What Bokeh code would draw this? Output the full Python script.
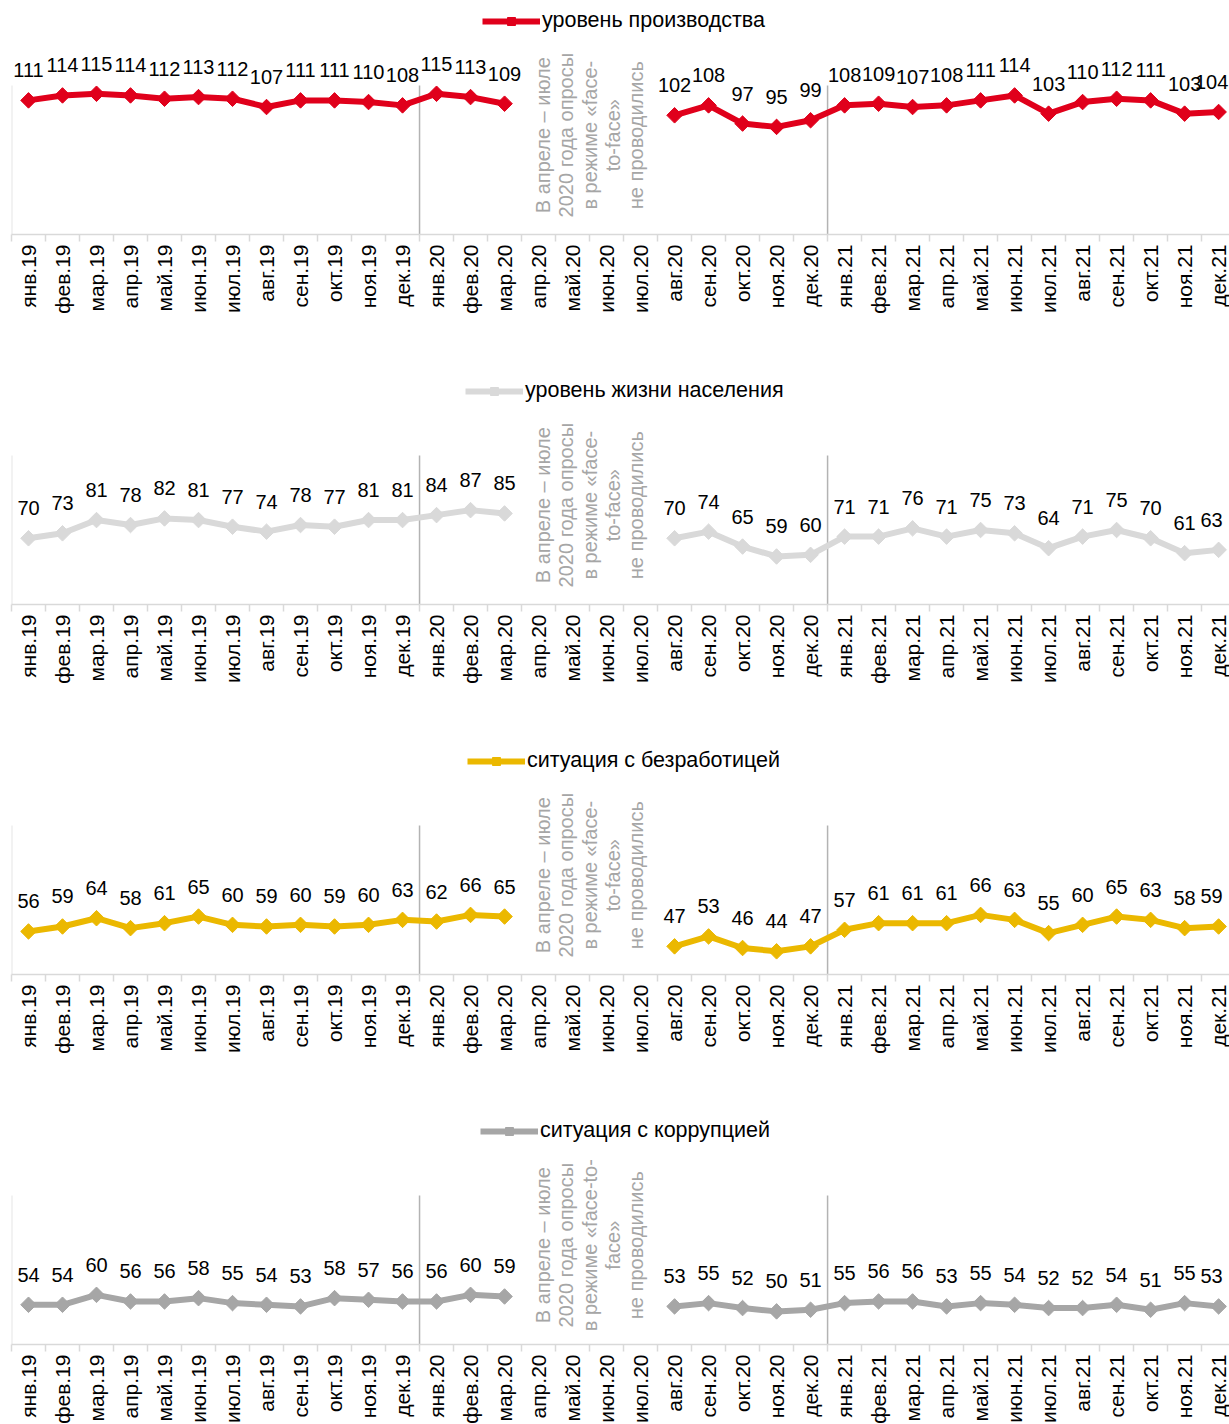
import math
from bokeh.plotting import figure
from bokeh.models import (Range1d, FixedTicker, ColumnDataSource, LabelSet, Label,
                          Legend, LegendItem)
from bokeh.core.properties import value
from bokeh.layouts import column
from bokeh.embed import file_html
from bokeh.resources import INLINE

NaN = float("nan")

categories = [
    "янв.19", "фев.19", "мар.19", "апр.19", "май.19", "июн.19",
    "июл.19", "авг.19", "сен.19", "окт.19", "ноя.19", "дек.19",
    "янв.20", "фев.20", "мар.20", "апр.20", "май.20", "июн.20",
    "июл.20", "авг.20", "сен.20", "окт.20", "ноя.20", "дек.20",
    "янв.21", "фев.21", "мар.21", "апр.21", "май.21", "июн.21",
    "июл.21", "авг.21", "сен.21", "окт.21", "ноя.21", "дек.21",
]

production = [111, 114, 115, 114, 112, 113, 112, 107, 111, 111, 110, 108,
              115, 113, 109, NaN, NaN, NaN, NaN, 102, 108, 97, 95, 99,
              108, 109, 107, 108, 111, 114, 103, 110, 112, 111, 103, 104]
living = [70, 73, 81, 78, 82, 81, 77, 74, 78, 77, 81, 81,
          84, 87, 85, NaN, NaN, NaN, NaN, 70, 74, 65, 59, 60,
          71, 71, 76, 71, 75, 73, 64, 71, 75, 70, 61, 63]
unemployment = [56, 59, 64, 58, 61, 65, 60, 59, 60, 59, 60, 63,
                62, 66, 65, NaN, NaN, NaN, NaN, 47, 53, 46, 44, 47,
                57, 61, 61, 61, 66, 63, 55, 60, 65, 63, 58, 59]
corruption = [54, 54, 60, 56, 56, 58, 55, 54, 53, 58, 57, 56,
              56, 60, 59, NaN, NaN, NaN, NaN, 53, 55, 52, 50, 51,
              55, 56, 56, 53, 55, 54, 52, 52, 54, 51, 55, 53]

series_names = ["уровень производства", "уровень жизни населения",
                "ситуация с безработицей", "ситуация с коррупцией"]
series_values = [production, living, unemployment, corruption]
series_colors = ["#E0001B", "#D9D9D9", "#EBB800", "#A6A6A6"]

notes = [
    "В апреле – июле\n2020 года опросы\nв режиме «face-\nto-face»\nне проводились",
    "В апреле – июле\n2020 года опросы\nв режиме «face-\nto-face»\nне проводились",
    "В апреле – июле\n2020 года опросы\nв режиме «face-\nto-face»\nне проводились",
    "В апреле – июле\n2020 года опросы\nв режиме «face-to-\nface»\nне проводились",
]

FONT = "Liberation Sans"
legend_left = [471, 454, 456, 469]
bottom_borders = [136, 136, 136, 66]

Y_MIN, Y_MAX = 30, 120          # value axis range of the plotted area
AXIS_PX = 149                   # pixel height of that value range
FRAME_H = 234                   # frame includes legend/label area above
Y_TOP = Y_MIN + FRAME_H * (Y_MAX - Y_MIN) / AXIS_PX
X_START, X_END = -0.5, 35.32

xs = list(range(len(categories)))


def make_panel(k):
    values = series_values[k]
    color = series_colors[k]
    p = figure(frame_width=1218, frame_height=FRAME_H,
               x_range=Range1d(X_START, X_END), y_range=Range1d(Y_MIN, Y_TOP),
               output_backend="svg", toolbar_location=None, tools="",
               min_border_left=11, min_border_right=0, min_border_top=0,
               min_border_bottom=bottom_borders[k])
    p.outline_line_color = None
    p.xgrid.visible = False
    p.ygrid.visible = False
    p.yaxis.visible = False

    ax = p.xaxis[0]
    ax.ticker = FixedTicker(ticks=xs, minor_ticks=[i - 0.5 for i in range(len(xs) + 1)])
    ax.major_label_overrides = {i: c for i, c in enumerate(categories)}
    ax.major_label_orientation = math.pi / 2
    ax.major_label_text_font = FONT
    ax.major_label_text_font_size = "21px"
    ax.major_label_text_color = "#000000"
    ax.major_label_standoff = 3
    ax.major_tick_line_color = None
    ax.major_tick_in = 0
    ax.major_tick_out = 0
    ax.minor_tick_line_color = "#D9D9D9"
    ax.minor_tick_line_width = 1.5
    ax.minor_tick_in = 0
    ax.minor_tick_out = 7
    ax.axis_line_color = "#D9D9D9"
    ax.axis_line_width = 1.5

    # left axis line (value range only)
    p.segment(x0=[X_START], y0=[Y_MIN], x1=[X_START], y1=[Y_MAX],
              line_color="#E6E6E6", line_width=2)
    # year separators
    seps = [i - 0.5 for i, c in enumerate(categories) if i > 0 and c.startswith("янв")]
    p.segment(x0=seps, y0=[Y_MIN] * len(seps), x1=seps, y1=[Y_MAX] * len(seps),
              line_color="#B3B3B3", line_width=1.5)

    src = ColumnDataSource(dict(x=xs, y=values))
    lr = p.line("x", "y", source=src, line_width=6, line_color=color, line_join="round")
    sr = p.scatter("x", "y", source=src, marker="square", angle=math.pi / 4, size=11,
                   fill_color=color, line_color=color)

    lx = [x for x, v in zip(xs, values) if v == v]
    lv = [v for v in values if v == v]
    # keep the last label inside the right edge
    xoff = [-7 if x == xs[-1] else 0 for x in lx]
    lab_src = ColumnDataSource(dict(x=lx, y=lv, t=[str(int(v)) for v in lv], xo=xoff))
    p.add_layout(LabelSet(x="x", y="y", text="t", source=lab_src, y_offset=30,
                          x_offset="xo",
                          text_align="center", text_baseline="middle",
                          text_font=value(FONT), text_font_size=value("20px"),
                          text_color=value("#000000")))

    gap = [x for x, v in zip(xs, values) if v != v]
    p.add_layout(Label(x=sum(gap) / len(gap), y=90, text=notes[k], angle=math.pi / 2,
                       text_align="center", text_baseline="middle",
                       text_font=FONT, text_font_size="20px", text_color="#A6A6A6",
                       text_line_height=1.05))

    legend = Legend(items=[LegendItem(label=series_names[k], renderers=[lr, sr])],
                    location=(legend_left[k], 201), orientation="horizontal",
                    glyph_width=58, glyph_height=20, label_standoff=2,
                    padding=0, margin=0, spacing=0,
                    border_line_alpha=0, background_fill_alpha=0,
                    label_text_font=FONT, label_text_font_size="21.5px",
                    label_text_color="#000000")
    p.add_layout(legend)
    return p


panels = [make_panel(k) for k in range(4)]
layout = column(*panels, spacing=0)
open("out.html", "w").write(file_html(layout, INLINE))
